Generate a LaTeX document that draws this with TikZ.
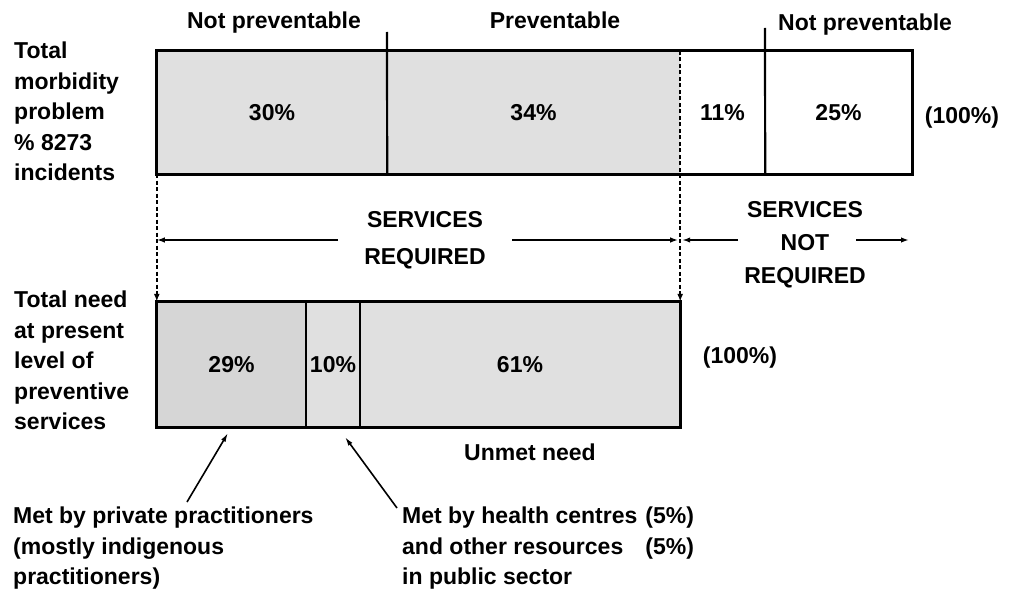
\documentclass[tikz,border=0pt]{standalone}
\usepackage{fontspec}
\setmainfont{Liberation Sans}
\usetikzlibrary{arrows.meta}
\newcommand\dfont{\fontsize{23}{30.5}\selectfont\bfseries}
\definecolor{shadeA}{gray}{0.88}
\definecolor{shadeB}{gray}{0.84}
\begin{document}
\begin{tikzpicture}[x=1pt,y=-1pt,
  txt/.style={font=\dfont, inner sep=0pt},
  seg/.style={inner sep=0pt, font=\dfont, minimum height=123pt},
  bseg/.style={inner sep=0pt, font=\dfont, minimum height=125pt},
  box/.style={line width=2.8pt},
  divl/.style={line width=2.2pt},
  dsh/.style={line width=2pt, dash pattern=on 4pt off 2.5pt, -{Latex[length=8pt,width=6pt]}},
  arr/.style={line width=1.8pt, -{Latex[length=8pt,width=5.5pt]}},
  ptr/.style={line width=1.6pt, -{Latex[length=9pt,width=5pt]}},
]
\useasboundingbox (0,0) rectangle (1010,594);

% top labels
\node[txt, anchor=base] (np1) at (274,29) {Not preventable};
\node[txt, anchor=base] (pv) at (555,29) {Preventable};
\node[txt, anchor=base west] (np2) at (778,31) {Not preventable};

% left labels
\node[txt, anchor=north west] (lab1) at (14,37) {\begin{tabular}[t]{@{}l@{}}Total\\morbidity\\problem\\\% 8273\\incidents\end{tabular}};
\node[txt, anchor=north west] (lab2) at (14,286) {\begin{tabular}[t]{@{}l@{}}Total need\\at present\\level of\\preventive\\services\end{tabular}};

% top bar
\node[seg, fill=shadeA, minimum width=230pt] (t1) at (272,112.5) {30\%};
\node[seg, fill=shadeA, minimum width=293pt] (t2) at (533.5,112.5) {34\%};
\node[seg, minimum width=85pt] (t3) at (722.5,112.5) {11\%};
\node[seg, minimum width=147pt] (t4) at (838.5,112.5) {25\%};
\node[txt] (t100) at (962,118) {(100\%)};
\draw[box] (t1.north west) rectangle (t4.south east);
\coordinate (d1) at (387,32);
\coordinate (d2) at (765,28);
\draw[divl] (d1) -- (t1.south east);
\draw[divl] (d2) -- (t3.south east);

% bottom bar
\node[bseg, fill=shadeB, minimum width=149pt] (b1) at (231.5,364.5) {29\%};
\node[bseg, fill=shadeA, minimum width=54pt] (b2) at (333,364.5) {10\%};
\node[bseg, fill=shadeA, minimum width=320pt] (b3) at (520,364.5) {61\%};
\node[txt] (b100) at (740,358) {(100\%)};
\draw[box] (b1.north west) rectangle (b3.south east);
\draw[divl] (b1.north east) -- (b1.south east);
\draw[divl] (b2.north east) -- (b2.south east);

% dashed verticals
\draw[dsh] (t1.south west) -- (b1.north west);
\draw[dsh] (t2.north east) -- (b3.north east);

% services labels
\node[txt, font=\fontsize{23}{37}\selectfont\bfseries] (sr) at (425,239) {\begin{tabular}{@{}c@{}}SERVICES\\REQUIRED\end{tabular}};
\node[txt, font=\fontsize{23}{33}\selectfont\bfseries] (snr) at (805,243.5) {\begin{tabular}{@{}c@{}}SERVICES\\NOT\\REQUIRED\end{tabular}};

\coordinate (a1) at (338,240);
\coordinate (a2) at (512,240);
\coordinate (a3) at (738,240);
\coordinate (a4) at (856,240);
\coordinate (a5) at (909,240);
\draw[arr] (a1) -- (a1 -| t1.west);
\draw[arr, shorten >=2pt] (a2) -- (a2 -| t2.east);
\draw[arr, shorten >=2pt] (a3) -- (a3 -| t2.east);
\draw[arr] (a4) -- (a5);

% unmet need
\node[txt] (un) at (530,452) {Unmet need};

% bottom notes
\node[txt, anchor=north west] (mp) at (13,502) {\begin{tabular}[t]{@{}l@{}}Met by private practitioners\\(mostly indigenous\\practitioners)\end{tabular}};
\node[txt, anchor=north west] (mh) at (402,502) {\begin{tabular}[t]{@{}l@{\hspace{8pt}}r@{}}Met by health centres & (5\%)\\and other resources & (5\%)\\in public sector & \end{tabular}};

\coordinate (p1s) at (187,502);
\coordinate (p1e) at (228,433);
\coordinate (p2s) at (397,508);
\coordinate (p2e) at (345,437);
\draw[ptr] (p1s) -- (p1e);
\draw[ptr] (p2s) -- (p2e);
\end{tikzpicture}
\end{document}
